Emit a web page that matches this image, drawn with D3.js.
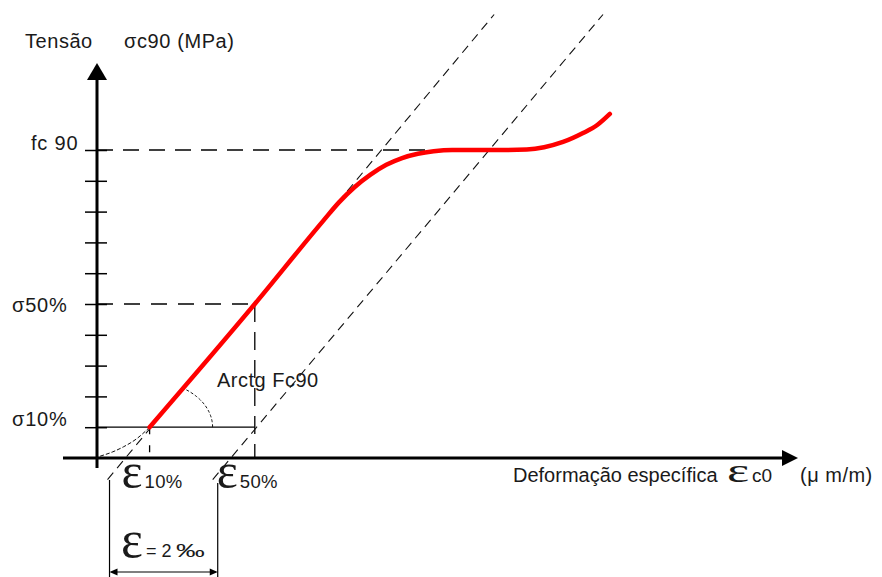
<!DOCTYPE html>
<html>
<head>
<meta charset="utf-8">
<script src="https://cdn.jsdelivr.net/npm/d3@7"></script>
<style>
  html, body { margin: 0; padding: 0; background: #fff; }
  svg { display: block; }
  text { font-family: "Liberation Sans", Arial, sans-serif; fill: #1a1a1a; }
  .eps { font-family: "Liberation Serif", "Times New Roman", serif; }
</style>
</head>
<body>
<svg id="chart" width="882" height="577"></svg>
<script>
// Stress as % of fc90, strain in per mille (‰)
const stressTicks = [10, 20, 30, 40, 50, 60, 70, 80, 90, 100];
const stressLabelValues = [100, 50, 10];
const stressLabels = ["fc 90", "σ50%", "σ10%"];

const strainMarks = [1, 3];               // ε10%, ε50%
const strainMarkLabels = ["10%", "50%"];
const strainOffset = 2;                   // ‰ between the two parallel lines

// Loading curve (red)
const curveStrain = [1.0, 3.0, 4.3, 4.6, 4.9, 5.2, 5.5, 5.8, 6.1, 6.4, 6.75, 7.6, 8.17, 8.5, 8.86, 9.24, 9.51, 9.75];
const curveStress = [10, 50, 77, 83, 88, 92, 95.2, 97.4, 98.8, 99.6, 100, 100, 100.2, 100.9, 102.6, 105.5, 108.1, 111.7];

// Initial settling toe (dashed)
const toeStrain = [0.06, 0.3, 0.5, 0.75, 1.0];
const toeStress = [0.6, 2.0, 3.6, 6.2, 10];

// Parallel secant lines: strain at bottom / top stress
const secantStrainLow = [0.2, 2.2];
const secantStrainHigh = [7.55, 9.62];
const secantStress = [-7, 144];

const svg = d3.select("#chart");

const x = d3.scaleLinear().domain([0, 10]).range([97, 623]);
const y = d3.scaleLinear().domain([0, 100]).range([458, 150]);

const line = d3.line().x(d => x(d[0])).y(d => y(d[1]));
const smooth = d3.line().x(d => x(d[0])).y(d => y(d[1])).curve(d3.curveMonotoneX);

// ---- reference lines ----
const g = svg.append("g");

// fc90 level
g.append("line")
  .attr("x1", x(0)).attr("x2", x(6.95))
  .attr("y1", y(100)).attr("y2", y(100))
  .attr("stroke", "#000").attr("stroke-width", 1.5)
  .attr("stroke-dasharray", "16,10");

// σ50% level and its strain
g.append("line")
  .attr("x1", x(0)).attr("x2", x(strainMarks[1]))
  .attr("y1", y(50)).attr("y2", y(50))
  .attr("stroke", "#000").attr("stroke-width", 1.5)
  .attr("stroke-dasharray", "16,11");
g.append("line")
  .attr("x1", x(strainMarks[1])).attr("x2", x(strainMarks[1]))
  .attr("y1", y(50)).attr("y2", y(0))
  .attr("stroke", "#000").attr("stroke-width", 1.3)
  .attr("stroke-dasharray", "18,10");

// σ10% level (solid)
g.append("line")
  .attr("x1", x(0)).attr("x2", x(strainMarks[1]))
  .attr("y1", y(10)).attr("y2", y(10))
  .attr("stroke", "#000").attr("stroke-width", 1.2);

// ε10% drop
g.append("line")
  .attr("x1", x(strainMarks[0])).attr("x2", x(strainMarks[0]))
  .attr("y1", y(10)).attr("y2", y(0))
  .attr("stroke", "#000").attr("stroke-width", 1.3)
  .attr("stroke-dasharray", "7,11");

// parallel secant lines
secantStrainLow.forEach((s0, i) => {
  g.append("path")
    .attr("d", line([[s0, secantStress[0]], [secantStrainHigh[i], secantStress[1]]]))
    .attr("fill", "none").attr("stroke", "#111").attr("stroke-width", 1.1)
    .attr("stroke-dasharray", "9,6");
});

// toe
g.append("path")
  .attr("d", smooth(toeStrain.map((s, i) => [s, toeStress[i]])))
  .attr("fill", "none").attr("stroke", "#111").attr("stroke-width", 1)
  .attr("stroke-dasharray", "4,2");

// angle arc at the ε10% point
(function () {
  const cx = x(strainMarks[0]), cy = y(10);
  const dx = x(strainMarks[1]) - cx, dy = cy - y(50);
  const rx = 63, ry = 46;
  const tEnd = Math.atan2(rx * dy, ry * dx);
  const pts = d3.range(0, 41).map(k => {
    const t = tEnd * k / 40;
    return [cx + rx * Math.cos(t), cy - ry * Math.sin(t)];
  });
  g.append("path")
    .attr("d", d3.line()(pts))
    .attr("fill", "none").attr("stroke", "#111").attr("stroke-width", 1)
    .attr("stroke-dasharray", "3,2");
})();

// ---- axes ----
const ax = svg.append("g");
ax.append("line")
  .attr("x1", 63).attr("x2", 786).attr("y1", y(0)).attr("y2", y(0))
  .attr("stroke", "#000").attr("stroke-width", 3);
ax.append("path")
  .attr("d", `M798,${y(0)} L782,${y(0) - 8} L782,${y(0) + 8} Z`)
  .attr("fill", "#000");
ax.append("line")
  .attr("x1", x(0)).attr("x2", x(0)).attr("y1", 468).attr("y2", 76)
  .attr("stroke", "#000").attr("stroke-width", 3);
ax.append("path")
  .attr("d", `M${x(0)},63 L${x(0) - 10},80 L${x(0) + 10},80 Z`)
  .attr("fill", "#000");

// stress ticks
const yAxis = d3.axisLeft(y).tickValues(stressTicks).tickSize(0).tickFormat("");
const yg = ax.append("g").attr("transform", `translate(${x(0)},0)`).call(yAxis);
yg.select(".domain").remove();
yg.selectAll(".tick").append("line")
  .attr("x1", -12).attr("x2", 10)
  .attr("stroke", "#000").attr("stroke-width", 1.5);

// ---- red curve ----
svg.append("path")
  .attr("d", smooth(curveStrain.map((s, i) => [s, curveStress[i]])))
  .attr("fill", "none").attr("stroke", "#ff0000").attr("stroke-width", 4.5)
  .attr("stroke-linecap", "round").attr("stroke-linejoin", "round");

// ---- labels ----
const T = svg.append("g");

T.append("text").attr("x", 25).attr("y", 48).attr("font-size", 20).attr("letter-spacing", 0.55).text("Tensão");
T.append("text").attr("x", 124).attr("y", 48).attr("font-size", 20).attr("letter-spacing", 0.6).text("σc90 (MPa)");

const labelX = [31, 12, 12];
const labelDy = [0, 7.5, -1];
stressLabelValues.forEach((v, i) => {
  T.append("text").attr("x", labelX[i]).attr("y", y(v) + labelDy[i])
    .attr("font-size", 20).attr("letter-spacing", 0.8).text(stressLabels[i]);
});

// ε10% and ε50% labels
strainMarks.forEach((s, i) => {
  const gx = x(s) - 28 + (i === 1 ? -10 : 0);
  T.append("text").attr("class", "eps").attr("x", gx).attr("y", 488)
    .attr("font-size", 50).text("ε");
  T.append("text").attr("x", gx + 23).attr("y", 488)
    .attr("font-size", 18.5).attr("letter-spacing", 0.3).text(strainMarkLabels[i]);
});

T.append("text").attr("x", 217).attr("y", 387).attr("font-size", 20).attr("letter-spacing", 0.5).text("Arctg Fc90");

// x-axis title
T.append("text").attr("x", 513).attr("y", 482).attr("font-size", 20).attr("letter-spacing", 0).text("Deformação específica");
T.append("text").attr("class", "eps")
  .attr("transform", "translate(727,482) scale(1.55,1)")
  .attr("font-size", 34).text("ε");
T.append("text").attr("x", 752).attr("y", 482).attr("font-size", 19).text("c0");
T.append("text").attr("x", 800).attr("y", 482).attr("font-size", 20).attr("letter-spacing", 0.5).text("(μ m/m)");

// strain offset dimension
const bx0 = x(secantStrainLow[0]) + 2, bx1 = bx0 + (x(strainOffset) - x(0)) + 3;
const dim = svg.append("g").attr("stroke", "#000").attr("stroke-width", 1.2);
dim.append("line").attr("x1", bx0).attr("x2", bx0).attr("y1", 480).attr("y2", 577);
dim.append("line").attr("x1", bx1).attr("x2", bx1).attr("y1", 483).attr("y2", 577);
dim.append("line").attr("x1", bx0 + 2).attr("x2", bx1 - 2).attr("y1", 572).attr("y2", 572);
svg.append("path").attr("d", `M${bx0},572 L${bx0 + 8},568.5 L${bx0 + 8},575.5 Z`).attr("fill", "#000");
svg.append("path").attr("d", `M${bx1},572 L${bx1 - 8},568.5 L${bx1 - 8},575.5 Z`).attr("fill", "#000");

T.append("text").attr("class", "eps").attr("x", 121).attr("y", 557).attr("font-size", 52).text("ε");
T.append("text").attr("x", 146).attr("y", 557).attr("font-size", 18).text("= 2");
T.append("text").attr("transform", "translate(176,557) scale(1.6,1)").attr("font-size", 18).text("‰");
</script>
</body>
</html>
